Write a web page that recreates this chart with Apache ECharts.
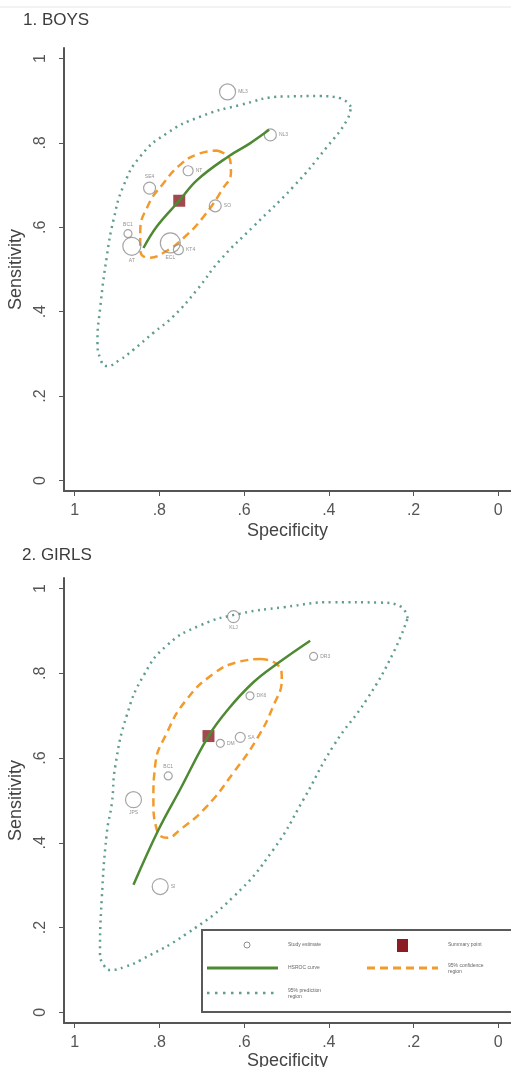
<!DOCTYPE html>
<html>
<head>
<meta charset="utf-8">
<script src="https://cdn.jsdelivr.net/npm/echarts@6/dist/echarts.min.js"></script>
<style>
html,body{margin:0;padding:0;background:#fff;}
#chart{width:511px;height:1067px;}
</style>
</head>
<body>
<div id="chart"></div>
<script>
// ---------- DATA ----------
const panelTitles = ['1. BOYS', '2. GIRLS'];
const tickValues = [0, 0.2, 0.4, 0.6, 0.8, 1];
const tickLabels = ['0', '.2', '.4', '.6', '.8', '1'];

// Boys study estimates
const boysNames  = ['ML3', 'NL3', 'NT', 'SE4', 'SO', 'BC1', 'AT', 'ECL', 'KT4'];
const boysSpec   = [0.639, 0.538, 0.732, 0.823, 0.668, 0.874, 0.865, 0.774, 0.755];
const boysSens   = [0.921, 0.819, 0.734, 0.693, 0.651, 0.585, 0.555, 0.563, 0.547];
const boysWeight = [8, 6, 5, 6, 6, 4, 9, 10, 5];
const boysSummary = [0.753, 0.663];
const boysRoc = [[0.8375,0.551],[0.806,0.602],[0.753,0.663],[0.711,0.712],[0.637,0.768],[0.586,0.799],[0.541,0.831]];
const boysConf = [[0.664,0.782],[0.633,0.760],[0.631,0.731],[0.652,0.689],[0.692,0.630],[0.735,0.582],[0.786,0.542],[0.826,0.528],[0.845,0.547],[0.845,0.589],[0.826,0.653],[0.793,0.701],[0.751,0.748],[0.708,0.774],[0.664,0.782]];
const boysPred = [[0.348,0.886],[0.373,0.906],[0.420,0.911],[0.507,0.910],[0.609,0.890],[0.704,0.862],[0.782,0.823],[0.845,0.768],[0.885,0.697],[0.908,0.618],[0.924,0.531],[0.940,0.405],[0.946,0.330],[0.938,0.285],[0.924,0.271],[0.893,0.286],[0.861,0.310],[0.814,0.350],[0.767,0.389],[0.711,0.452],[0.656,0.523],[0.578,0.602],[0.483,0.697],[0.404,0.791],[0.357,0.854],[0.348,0.886]];

// Girls study estimates
const girlsNames  = ['KLJ', 'DR3', 'DK6', 'DM', 'SA', 'BC1', 'JPS', 'SI'];
const girlsSpec   = [0.625, 0.436, 0.586, 0.656, 0.609, 0.779, 0.861, 0.798];
const girlsSens   = [0.934, 0.840, 0.747, 0.635, 0.649, 0.558, 0.502, 0.297];
const girlsWeight = [6, 4, 4, 4, 5, 4, 8, 8];
const girlsSummary = [0.684, 0.652];
const girlsRoc = [[0.861,0.301],[0.802,0.431],[0.751,0.526],[0.684,0.652],[0.637,0.716],[0.578,0.779],[0.523,0.822],[0.444,0.877]];
const girlsConf = [[0.562,0.834],[0.523,0.822],[0.511,0.787],[0.531,0.723],[0.570,0.645],[0.625,0.566],[0.688,0.486],[0.751,0.431],[0.782,0.412],[0.806,0.431],[0.814,0.502],[0.810,0.581],[0.782,0.660],[0.735,0.739],[0.672,0.799],[0.617,0.826],[0.562,0.834]];
const girlsPred = [[0.214,0.930],[0.231,0.958],[0.280,0.967],[0.389,0.968],[0.507,0.956],[0.609,0.941],[0.704,0.913],[0.782,0.866],[0.837,0.795],[0.877,0.700],[0.904,0.581],[0.912,0.494],[0.924,0.423],[0.936,0.265],[0.940,0.139],[0.930,0.110],[0.916,0.100],[0.880,0.108],[0.845,0.123],[0.735,0.186],[0.625,0.273],[0.531,0.384],[0.460,0.502],[0.389,0.629],[0.310,0.739],[0.247,0.850],[0.214,0.930]];

const legendLabels = ['Study estimate', 'Summary point', 'HSROC curve', '95% confidence\nregion', '95% prediction\nregion'];

// ---------- STYLE ----------
const FONT = 'Liberation Sans, Arial, sans-serif';
const C_GREEN = '#4d8a33';
const C_ORANGE = '#f29b2c';
const C_TEAL = '#5e9d90';
const C_RED = '#8b1c24';
const C_CIRCLE = '#8f8f8f';
const C_AXIS = '#555';
const boysLabelPos  = ['right','right','right','top','right','top','bottom','bottom','right'];
const girlsLabelPos = ['bottom','right','right','right','right','top','bottom','right'];

function fmtTick(v) {
  const i = tickValues.findIndex(t => Math.abs(t - v) < 1e-9);
  return i >= 0 ? tickLabels[i] : '';
}

function xAxisCfg(gi, gap) {
  return {
    type: 'value', gridIndex: gi, inverse: true, min: -0.03, max: 1.025,
    name: 'Specificity', nameLocation: 'middle', nameGap: gap,
    nameTextStyle: { fontFamily: FONT, fontSize: 18, color: '#444' },
    axisLine: { show: true, onZero: false, lineStyle: { color: C_AXIS, width: 2 } },
    axisTick: { show: true, length: 5, lineStyle: { color: C_AXIS }, customValues: tickValues },
    axisLabel: { fontFamily: FONT, fontSize: 16, color: '#555', margin: 12, customValues: tickValues, formatter: fmtTick },
    splitLine: { show: false }
  };
}
function yAxisCfg(gi) {
  return {
    type: 'value', gridIndex: gi, min: -0.025, max: 1.025,
    name: 'Sensitivity', nameLocation: 'middle', nameGap: 37, nameRotate: 90,
    nameTextStyle: { fontFamily: FONT, fontSize: 18, color: '#444' },
    axisLine: { show: true, onZero: false, lineStyle: { color: C_AXIS, width: 2 } },
    axisTick: { show: true, length: 5, lineStyle: { color: C_AXIS }, customValues: tickValues },
    axisLabel: { fontFamily: FONT, fontSize: 16, color: '#555', margin: 15, rotate: 90, customValues: tickValues, formatter: fmtTick },
    splitLine: { show: false }
  };
}

function studyData(spec, sens, names, weight, pos) {
  return spec.map((s, i) => ({
    value: [s, sens[i]], name: names[i], symbolSize: weight[i] * 2,
    label: { position: pos[i] }
  }));
}

function panelSeries(gi, pred, conf, roc, studies, summary) {
  return [
    { type: 'line', xAxisIndex: gi, yAxisIndex: gi, data: pred, smooth: 0.5, symbol: 'none', silent: true,
      lineStyle: { color: C_TEAL, width: 2.5, type: [2, 4.5], cap: 'butt' }, z: 2 },
    { type: 'line', xAxisIndex: gi, yAxisIndex: gi, data: conf, smooth: 0.5, symbol: 'none', silent: true,
      lineStyle: { color: C_ORANGE, width: 2.5, type: [8, 5], cap: 'butt' }, z: 3 },
    { type: 'scatter', xAxisIndex: gi, yAxisIndex: gi, data: studies, symbol: 'circle',
      itemStyle: { color: 'rgba(255,255,255,0)', borderColor: C_CIRCLE, borderWidth: 1.2 },
      label: { show: true, formatter: p => p.name, fontSize: 5, color: '#777', fontFamily: FONT, distance: 2 }, z: 4 },
    { type: 'scatter', xAxisIndex: gi, yAxisIndex: gi, data: [summary], symbol: 'rect', symbolSize: 12,
      itemStyle: { color: C_RED }, z: 5 },
    { type: 'line', xAxisIndex: gi, yAxisIndex: gi, data: roc, smooth: 0.4, symbol: 'none', silent: true,
      lineStyle: { color: C_GREEN, width: 2.5 }, z: 6 }
  ];
}

// legend graphic (panel 2)
const LX = 202, LY = 930;
const legendGraphic = [
  { type: 'rect', shape: { x: LX, y: LY, width: 316, height: 82 }, style: { fill: '#fff', stroke: '#5a5a5a', lineWidth: 2 }, z: 100 },
  { type: 'circle', shape: { cx: 247, cy: 945, r: 3 }, style: { fill: '#fff', stroke: C_CIRCLE, lineWidth: 1 }, z: 101 },
  { type: 'rect', shape: { x: 397, y: 939, width: 11, height: 13 }, style: { fill: C_RED }, z: 101 },
  { type: 'line', shape: { x1: 207, y1: 968, x2: 278, y2: 968 }, style: { stroke: C_GREEN, lineWidth: 3 }, z: 101 },
  { type: 'line', shape: { x1: 367, y1: 968, x2: 438, y2: 968 }, style: { stroke: C_ORANGE, lineWidth: 3, lineDash: [8, 5] }, z: 101 },
  { type: 'line', shape: { x1: 207, y1: 993, x2: 278, y2: 993 }, style: { stroke: C_TEAL, lineWidth: 2.5, lineDash: [2.5, 5.5] }, z: 101 },
  { type: 'text', x: 288, y: 945, style: { text: legendLabels[0], fontSize: 5, fill: '#666', fontFamily: FONT, verticalAlign: 'middle' }, z: 101 },
  { type: 'text', x: 448, y: 945, style: { text: legendLabels[1], fontSize: 5, fill: '#666', fontFamily: FONT, verticalAlign: 'middle' }, z: 101 },
  { type: 'text', x: 288, y: 968, style: { text: legendLabels[2], fontSize: 5, fill: '#666', fontFamily: FONT, verticalAlign: 'middle' }, z: 101 },
  { type: 'text', x: 448, y: 969, style: { text: legendLabels[3], fontSize: 5, fill: '#666', fontFamily: FONT, verticalAlign: 'middle', lineHeight: 6 }, z: 101 },
  { type: 'text', x: 288, y: 994, style: { text: legendLabels[4], fontSize: 5, fill: '#666', fontFamily: FONT, verticalAlign: 'middle', lineHeight: 6 }, z: 101 },
  { type: 'line', shape: { x1: 0, y1: 7, x2: 511, y2: 7 }, style: { stroke: '#e6e6e6', lineWidth: 1 }, z: 1 }
];

const chart = echarts.init(document.getElementById('chart'), null, { renderer: 'canvas' });
chart.setOption({
  backgroundColor: '#fff',
  animation: false,
  title: [
    { text: panelTitles[0], left: 23, top: 12, padding: 0, textStyle: { fontFamily: FONT, fontSize: 17, fontWeight: 'normal', color: '#3c3c3c' } },
    { text: panelTitles[1], left: 22, top: 547, padding: 0, textStyle: { fontFamily: FONT, fontSize: 17, fontWeight: 'normal', color: '#3c3c3c' } }
  ],
  grid: [
    { left: 64, top: 48, width: 447, height: 443, outerBoundsMode: 'none', containLabel: false },
    { left: 64, top: 578, width: 447, height: 445, outerBoundsMode: 'none', containLabel: false }
  ],
  xAxis: [xAxisCfg(0, 31), xAxisCfg(1, 29)],
  yAxis: [yAxisCfg(0), yAxisCfg(1)],
  series: [
    ...panelSeries(0, boysPred, boysConf, boysRoc, studyData(boysSpec, boysSens, boysNames, boysWeight, boysLabelPos), boysSummary),
    ...panelSeries(1, girlsPred, girlsConf, girlsRoc, studyData(girlsSpec, girlsSens, girlsNames, girlsWeight, girlsLabelPos), girlsSummary)
  ],
  graphic: legendGraphic
});
</script>
</body>
</html>
